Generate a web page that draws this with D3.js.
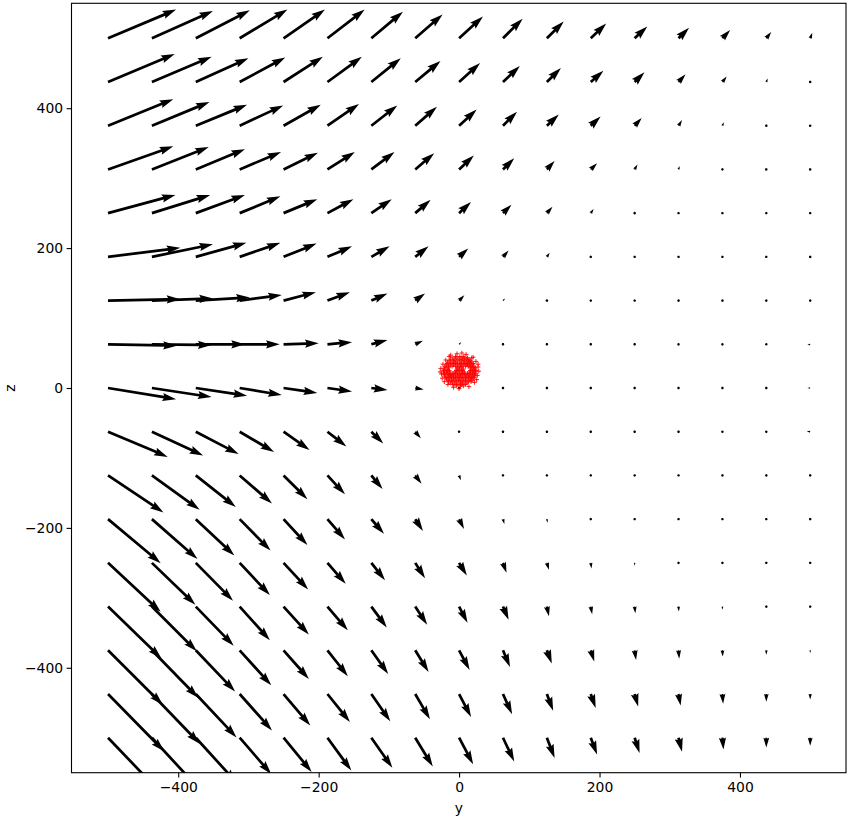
<!DOCTYPE html>
<html><head><meta charset="utf-8">
<script src="https://cdn.jsdelivr.net/npm/d3@7"></script>
<style>body{margin:0;background:#fff}</style>
</head><body>
<svg id="c" width="861" height="825"></svg>
<script>
// grid positions (horizontal axis "y", vertical axis "z")
const gridY = [-500,-437.5,-375,-312.5,-250,-187.5,-125,-62.5,0,62.5,125,187.5,250,312.5,375,437.5,500];
const gridZ = [500,437.5,375,312.5,250,187.5,125,62.5,0,-62.5,-125,-187.5,-250,-312.5,-375,-437.5,-500];

// vector components (data units), one row per gridZ entry, one column per gridY entry
const U = [
 [97,87,77,68,59,53,45,39,34,28,24,22,18,15,11,7,3],
 [95,85,75,65,56,49,42,36,30,24,20,18,14,10,6,2,0],
 [93,82,73,62,53,45,37,31,25,20,17,14,10,5,2,0,0.3],
 [93,81,70,59,49,39,33,27,21,16,11,9,4,1.5,0,0.3,0.5],
 [96,83,70,58,48,37,29,22,17,12,8,4,1,0,0,0.5,1],
 [103,87,72,58,47,35,26,19,13,8,4,0.5,0,0,-0.5,-1,-2],
 [103,87,77,60,46,32,23,14,7.5,3,0.3,0,0,-0.5,-1,-2,-3],
 [98,85,70,57,50,35,23,11,3,0.3,0,0,0,-1,-2,-3,-4],
 [97,85,73,60,48,35,23,12,0,0,0,0,-0.5,-1,-2,-3,-4],
 [85,73,61,49,37,27,17,8,1,0,0,0,0,-1,-2.5,-3.5,-5],
 [79,68,57,46,34,25,16,9,2.5,0,0,0,0,0,-1,-2,-3],
 [75,65,55,44,34,25,18,11,7,2,1,0,0,0,0,-0.7,-1.5],
 [75,62,53,43,35,26,19.5,14,11,5,3,1,0,0,0,0,0],
 [76,64,54,43,36,29,22,17,12,8,3,2,1,0.5,0,0,0],
 [78,66,56,45,36,29,24,19,15,10,7,5,2,1,0.5,0,0],
 [80,68,58,46,38,32,27,21,17,13,9,7,5,3,1,0,0],
 [80,68,58,45,40,34,30,25,20,16,11,9,7,5,1.5,0,0]
];
const V = [
 [41,39,40,41,41,41,38,34,31,28,24,21,17,15,12,9,8],
 [40,36,34,35,36,36,34,30,27,23,20,16,14,11,8,5,1],
 [38,34,30,29,30,31,29,27,23,20,16,13,11,8,5,0.5,0.3],
 [33,32,29,25,24,25,25,23,20,16,12,9,7,5,0.5,0.3,0.5],
 [26,26,26,24,20,20,20,19,16,12,9,6,3,0,0,-1,-1.5],
 [13,18,20,20,19,15,15,15,12,9,6,0.5,0,0,-1,-1.5,-1.5],
 [2,3,4.5,8,12,12,10,10,7.5,3,0.3,0,0,-0.5,-1,-1.5,-2],
 [-2,-1,0,0,1.5,3,6,5,3,0,0,0,0,-0.5,-1,-1,-1],
 [-16,-13,-11,-10,-7,-5,-3,-2,0,0,0,0,0,0,0,0,0],
 [-36,-34,-32,-29,-26,-21,-17,-9.5,-1.5,0,0,0,0,0,0.5,0.5,0.5],
 [-53,-49,-45,-40,-34,-27,-19.5,-12,-7,-2.5,0,0,0,0,-0.5,-1,-1],
 [-63,-57,-52,-45,-37,-29,-21,-17,-14,-7,-5,-2,0,0,0,0,-0.5],
 [-70,-60,-54,-46,-38,-30,-25,-22,-18,-14,-10,-8,-4,-1.5,-0.5,0,0],
 [-74,-64,-56,-48,-40,-34,-30,-26,-23,-19,-14,-11,-9.5,-7,-4.5,-2,-0.5],
 [-78,-68,-59,-50,-41,-37,-34,-31,-28,-24,-19,-16,-14,-12,-9,-6.5,-4],
 [-82,-71,-62,-52,-45,-40,-39,-36,-33,-29,-24,-20,-18,-16.5,-14,-11,-8],
 [-84,-74,-64,-52,-49,-47,-43,-41,-38,-34,-29,-24,-22,-20,-17,-14,-11.5]
];

// red point cloud [y, z]
const cloud = [
 [-4,3],[2,3],[6,3],
 [-9,5],[-3,5],[3,5],[9,5],
 [-12,7],[-6,7],[0,7],[5,7],[11,7],
 [-15,9],[-9,9],[-4,9],[2,9],[7,9],[13,9],[17,9],
 [-16,11],[-11,11],[-6,11],[-1,11],[4,11],[9,11],[14,11],[18,11],
 [-18,13],[-13,13],[-8,13],[-3,13],[1,13],[6,13],[11,13],[16,13],[20,13],
 [-19,15],[-14,15],[-10,15],[-5,15],[0,15],[4,15],[9,15],[13,15],[18,15],[21,15],
 [-20,17],[-15,17],[-11,17],[-7,17],[-2,17],[2,17],[7,17],[11,17],[15,17],[19,17],[22,17],
 [-21,19],[-16,19],[-12,19],[-8,19],[-3,19],[1,19],[5,19],[9,19],[13,19],[17,19],[22,19],
 [-21,21],[-17,21],[-13,21],[-9,21],[-5,21],[0,21],[4,21],[8,21],[12,21],[16,21],[20,21],[23,21],
 [-22,23],[-18,23],[-14,23],[-6,23],[-2,23],[3,23],[7,23],[15,23],[19,23],[23,23],
 [-22,25],[-17,25],[-14,25],[-4,25],[0,25],[5,25],[16,25],[21,25],[24,25],
 [-21,27],[-16,27],[-3,27],[1,27],[6,27],[18,27],[22,27],
 [-20,29],[-15,29],[-2,29],[3,29],[16,29],[20,29],[23,29],
 [-20,31],[-15,31],[-10,31],[-5,31],[0,31],[4,31],[9,31],[13,31],[17,31],[21,31],
 [-18,33],[-13,33],[-8,33],[-3,33],[2,33],[6,33],[11,33],[15,33],[19,33],
 [-17,35],[-12,35],[-7,35],[-2,35],[3,35],[8,35],[12,35],[17,35],[20,35],
 [-16,37],[-10,37],[-5,37],[1,37],[6,37],[11,37],[15,37],[18,37],
 [-14,39],[-8,39],[-3,39],[3,39],[8,39],[13,39],[16,39],
 [-12,41],[-6,41],[0,41],[5,41],[10,41],[14,41],
 [-9,43],[-3,43],[3,43],[8,43],[12,43],
 [-5,45],[1,45],[6,45],
 [-25,20],[27,30],[-19,40],[22,8],[0,-1],[10,48],[-12,47],[26,18],[-26,28],[18,43],
 [-24,14],[25,12],[-23,34],[24,38],[-8,1],[14,2],[-3,49],[4,50],[28,24],[-27,23],
 [-16,5],[20,44],[-21,9],[27,34],[-14,45]
];

const xTicks = [-400,-200,0,200,400];
const zTicks = [-400,-200,0,200,400];
const xLabel = "y", zLabel = "z";

const L = 71.5, R = 846, T = 3.3, B = 772.7;
const x = d3.scaleLinear().domain([-552, 551]).range([L, R]);
const y = d3.scaleLinear().domain([-550, 550]).range([B, T]);
const svg = d3.select("#c");
const FONT = "'DejaVu Sans', sans-serif";

svg.append("defs").append("clipPath").attr("id","clip")
  .append("rect").attr("x",L).attr("y",T).attr("width",R-L).attr("height",B-T);

const plot = svg.append("g").attr("clip-path","url(#clip)");

// quiver arrows, matplotlib geometry
const N = gridY.length * gridZ.length;
const w = 0.06 * (R - L) / Math.max(10, Math.sqrt(N));
const arrows = [];
gridZ.forEach((gz, i) => gridY.forEach((gy, j) => arrows.push({gy, gz, u: U[i][j], v: V[i][j]})));

function arrowPath(d){
  const tx = x(d.gy), ty = y(d.gz);
  const dx = x(d.gy + d.u) - tx, dy = y(d.gz + d.v) - ty;
  const len = Math.hypot(dx, dy) / w;
  const ang = Math.atan2(dy, dx);
  let X, Y;
  if (len < 1) {
    X = []; Y = [];
    for (let k = 0; k < 8; k++) { X.push(Math.cos(k*Math.PI/3)*0.5); Y.push(Math.sin(k*Math.PI/3)*0.5); }
  } else if (len < 5) {
    const s = len / 5;
    X = [0,0.5,0,5,0,0.5,0,0].map(t => t*s);
    Y = [0.5,0.5,1.5,0,-1.5,-0.5,-0.5,0.5].map(t => t*s);
  } else {
    X = [0,len-4.5,len-5,len,len-5,len-4.5,0,0];
    Y = [0.5,0.5,1.5,0,-1.5,-0.5,-0.5,0.5];
  }
  const c = Math.cos(ang), s = Math.sin(ang);
  const pts = X.map((xx, k) => [tx + w*(xx*c - Y[k]*s), ty + w*(xx*s + Y[k]*c)]);
  return "M" + pts.map(p => p[0].toFixed(2) + "," + p[1].toFixed(2)).join("L") + "Z";
}

plot.selectAll("path.arrow").data(arrows).join("path")
  .attr("class","arrow").attr("d", arrowPath).attr("fill","#000").attr("stroke","none");

// red cloud markers '+'
const ms = 2.3;
plot.selectAll("path.pt").data(cloud).join("path")
  .attr("class","pt")
  .attr("d", d => {
    const px = x(d[0]), py = y(d[1]);
    return `M${px-ms},${py}H${px+ms}M${px},${py-ms}V${py+ms}`;
  })
  .attr("stroke","#ff0000").attr("stroke-width",0.9).attr("fill","none");

// axes
const ax = svg.append("g").attr("transform",`translate(0,${B})`)
  .call(d3.axisBottom(x).tickValues(xTicks).tickSize(4.9).tickPadding(3.5));
const ay = svg.append("g").attr("transform",`translate(${L},0)`)
  .call(d3.axisLeft(y).tickValues(zTicks).tickSize(4.9).tickPadding(3.5));
[ax, ay].forEach(g => {
  g.select(".domain").remove();
  g.selectAll(".tick line").attr("stroke","#000").attr("stroke-width",1.1);
  g.selectAll(".tick text").attr("font-family",FONT).attr("font-size","13.9px").attr("fill","#000");
});
ax.selectAll(".tick text").attr("dy","0.75em");

svg.append("rect").attr("x",L).attr("y",T).attr("width",R-L).attr("height",B-T)
  .attr("fill","none").attr("stroke","#000").attr("stroke-width",1.1);

svg.append("text").attr("x",(L+R)/2).attr("y",813).attr("text-anchor","middle")
  .attr("font-family",FONT).attr("font-size","13.9px").text(xLabel);
svg.append("text").attr("transform",`translate(15,${(T+B)/2}) rotate(-90)`).attr("text-anchor","middle")
  .attr("font-family",FONT).attr("font-size","13.9px").text(zLabel);
</script>
</body></html>
